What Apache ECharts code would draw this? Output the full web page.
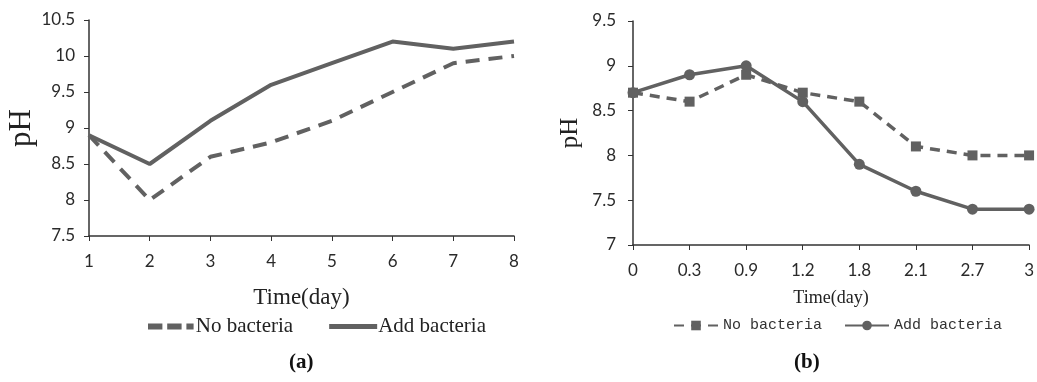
<!DOCTYPE html>
<html>
<head>
<meta charset="utf-8">
<script src="https://cdn.jsdelivr.net/npm/echarts@6/dist/echarts.min.js"></script>
<style>
  html, body { margin: 0; padding: 0; background: #fff; }
  #main { width: 1037px; height: 382px; }
</style>
</head>
<body>
<div id="main"></div>
<script>
// panel (a)
var daysA = ['1', '2', '3', '4', '5', '6', '7', '8'];
var noBacteriaA = [8.9, 8.0, 8.6, 8.8, 9.1, 9.5, 9.9, 10.0];
var addBacteriaA = [8.9, 8.5, 9.1, 9.6, 9.9, 10.2, 10.1, 10.2];
// panel (b)
var daysB = ['0', '0.3', '0.9', '1.2', '1.8', '2.1', '2.7', '3'];
var noBacteriaB = [8.7, 8.6, 8.9, 8.7, 8.6, 8.1, 8.0, 8.0];
var addBacteriaB = [8.7, 8.9, 9.0, 8.6, 7.9, 7.6, 7.4, 7.4];

var grey = '#616161';
var axisCol = '#333';
var tickFont = { color: '#2a2a2a', fontSize: 17, fontFamily: 'Lato' };

var myChart = echarts.init(document.getElementById('main'));
var option;

function stripTag(name) {
  return name.replace(/ \([ab]\)$/, '');
}

option = {
  animation: false,
  backgroundColor: '#fff',
  grid: [
    { left: 89, top: 20, width: 425, height: 216 },
    { left: 633, top: 21, width: 398, height: 224 }
  ],
  xAxis: [
    {
      gridIndex: 0,
      type: 'category',
      data: daysA,
      boundaryGap: false,
      name: 'Time(day)',
      nameLocation: 'middle',
      nameGap: 50,
      nameTextStyle: { fontFamily: 'Liberation Serif', fontSize: 23, color: '#222' },
      axisLine: { lineStyle: { color: axisCol, width: 1.5 } },
      axisTick: { length: 5, lineStyle: { color: axisCol } },
      axisLabel: Object.assign({ margin: 17 }, tickFont),
      splitLine: { show: false }
    },
    {
      gridIndex: 1,
      type: 'category',
      data: daysB,
      boundaryGap: false,
      name: 'Time(day)',
      nameLocation: 'middle',
      nameGap: 44,
      nameTextStyle: { fontFamily: 'Liberation Serif', fontSize: 18, color: '#222' },
      axisLine: { lineStyle: { color: axisCol, width: 1.5 } },
      axisTick: { length: 5, lineStyle: { color: axisCol } },
      axisLabel: Object.assign({ margin: 17 }, tickFont),
      splitLine: { show: false }
    }
  ],
  yAxis: [
    {
      gridIndex: 0,
      type: 'value',
      min: 7.5,
      max: 10.5,
      interval: 0.5,
      name: 'pH',
      nameLocation: 'middle',
      nameGap: 52,
      nameTextStyle: { fontFamily: 'Liberation Serif', fontSize: 31, color: '#222' },
      axisLine: { show: true, lineStyle: { color: axisCol, width: 1.5 } },
      axisTick: { show: true, length: 5, lineStyle: { color: axisCol } },
      axisLabel: Object.assign({ margin: 14 }, tickFont),
      splitLine: { show: false }
    },
    {
      gridIndex: 1,
      type: 'value',
      min: 7,
      max: 9.5,
      interval: 0.5,
      name: 'pH',
      nameLocation: 'middle',
      nameGap: 50,
      nameTextStyle: { fontFamily: 'Liberation Serif', fontSize: 25, color: '#222' },
      axisLine: { show: true, lineStyle: { color: axisCol, width: 1.5 } },
      axisTick: { show: true, length: 5, lineStyle: { color: axisCol } },
      axisLabel: Object.assign({ margin: 17 }, tickFont),
      splitLine: { show: false }
    }
  ],
  legend: [
    {
      data: [
        { name: 'No bacteria (a)', icon: 'path://M0,0h12v5h-12z M16,0h12v5h-12z M32,0h6v5h-6z' },
        { name: 'Add bacteria (a)', icon: 'path://M0,0h46v5h-46z' }
      ],
      left: 143,
      top: 311,
      itemWidth: 48,
      itemHeight: 6,
      itemGap: 36,
      formatter: stripTag,
      textStyle: { fontFamily: 'Liberation Serif', fontSize: 21, color: '#222', padding: [0, 0, 0, -4] }
    },
    {
      data: ['No bacteria (b)', 'Add bacteria (b)'],
      left: 668,
      top: 313,
      itemWidth: 44,
      itemHeight: 12,
      itemGap: 22,
      formatter: stripTag,
      textStyle: { fontFamily: 'Liberation Mono', fontSize: 15, color: '#333' }
    }
  ],
  graphic: [
    {
      type: 'text', left: 289, top: 352,
      style: { text: '(a)', font: 'bold 21px "Liberation Serif"', fill: '#111' }
    },
    {
      type: 'text', left: 794, top: 352,
      style: { text: '(b)', font: 'bold 21px "Liberation Serif"', fill: '#111' }
    }
  ],
  series: [
    {
      name: 'No bacteria (a)',
      type: 'line',
      xAxisIndex: 0,
      yAxisIndex: 0,
      data: noBacteriaA,
      symbol: 'none',
      color: grey,
      lineStyle: { width: 4, type: [14, 9], color: grey }
    },
    {
      name: 'Add bacteria (a)',
      type: 'line',
      xAxisIndex: 0,
      yAxisIndex: 0,
      data: addBacteriaA,
      symbol: 'none',
      color: grey,
      lineStyle: { width: 4, color: grey }
    },
    {
      name: 'No bacteria (b)',
      type: 'line',
      xAxisIndex: 1,
      yAxisIndex: 1,
      data: noBacteriaB,
      symbol: 'rect',
      symbolSize: 10,
      color: grey,
      itemStyle: { color: grey },
      lineStyle: { width: 3.5, type: [10, 7], color: grey }
    },
    {
      name: 'Add bacteria (b)',
      type: 'line',
      xAxisIndex: 1,
      yAxisIndex: 1,
      data: addBacteriaB,
      symbol: 'circle',
      symbolSize: 11,
      color: grey,
      itemStyle: { color: grey },
      lineStyle: { width: 3.5, color: grey }
    }
  ]
};

myChart.setOption(option);
</script>
</body>
</html>
